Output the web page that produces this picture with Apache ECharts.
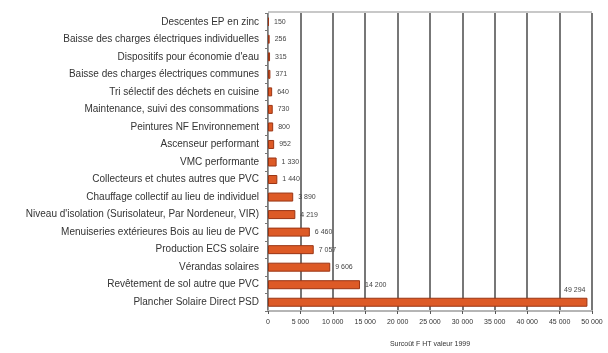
<!DOCTYPE html>
<html><head><meta charset="utf-8">
<script src="https://cdn.jsdelivr.net/npm/echarts@6/dist/echarts.min.js"></script>
<style>html,body{margin:0;padding:0;background:#fff}#c{width:608px;height:353px}</style>
</head><body><div id="c"></div>
<script>
const categories = [
  "Descentes EP en zinc",
  "Baisse des charges électriques individuelles",
  "Dispositifs pour économie d'eau",
  "Baisse des charges électriques communes",
  "Tri sélectif des déchets en cuisine",
  "Maintenance, suivi des consommations",
  "Peintures NF Environnement",
  "Ascenseur performant",
  "VMC performante",
  "Collecteurs et chutes autres que PVC",
  "Chauffage collectif au lieu de individuel",
  "Niveau d'isolation (Surisolateur, Par Nordeneur, VIR)",
  "Menuiseries extérieures Bois au lieu de PVC",
  "Production ECS solaire",
  "Vérandas solaires",
  "Revêtement de sol autre que PVC",
  "Plancher Solaire Direct PSD"
];
const values = [150, 256, 315, 371, 640, 730, 800, 952, 1330, 1440, 3890, 4219, 6460, 7057, 9606, 14200, 49294];
const xTicks = [0, 5000, 10000, 15000, 20000, 25000, 30000, 35000, 40000, 45000, 50000];
const xTitle = "Surcoût F HT valeur 1999";

function fmt(v){ return String(v).replace(/\B(?=(\d{3})+(?!\d))/g, ' '); }

const cats = categories.slice().reverse();
const vals = values.slice().reverse();
const data = vals.map((v, i) => {
  const d = { value: v };
  if (i === 0) {
    d.label = { position: ['100%', -4], align: 'right', verticalAlign: 'bottom', offset: [-2, 0] };
  }
  return d;
});

const chart = echarts.init(document.getElementById('c'), null, {renderer: 'canvas'});
chart.setOption({
  animation: false,
  textStyle: { fontFamily: 'Liberation Sans, Arial, sans-serif' },
  grid: { left: 268, right: 16, top: 13, bottom: 36, containLabel: false },
  xAxis: {
    type: 'value', min: xTicks[0], max: xTicks[xTicks.length - 1], interval: 5000,
    name: xTitle, nameLocation: 'middle', nameGap: 30,
    nameTextStyle: { fontSize: 7, color: '#333' },
    axisLine: { show: true, lineStyle: { color: '#b5b5b5', width: 2 } },
    axisTick: { show: true, length: 3, lineStyle: { color: '#555' } },
    axisLabel: { fontSize: 7, color: '#333', margin: 8, formatter: v => fmt(v) },
    splitLine: { show: true, lineStyle: { color: '#777', width: 2 } }
  },
  yAxis: {
    type: 'category', data: cats,
    axisLine: { show: true, lineStyle: { color: '#999', width: 1 } },
    axisTick: { show: true, length: 3, lineStyle: { color: '#777' } },
    axisLabel: { fontSize: 10, color: '#333', margin: 9 }
  },
  series: [{
    type: 'bar', data: data, barWidth: 9,
    itemStyle: { color: '#dd5a26', borderColor: '#9a3514', borderWidth: 1 },
    label: { show: true, position: 'right', distance: 5, fontSize: 7, color: '#444', formatter: p => fmt(p.value) }
  }]
});
chart.setOption({
  graphic: [{ type: 'line', shape: { x1: 268, y1: 12, x2: 592, y2: 12 }, style: { stroke: '#c8c8c8', lineWidth: 2 } }]
});
</script></body></html>
